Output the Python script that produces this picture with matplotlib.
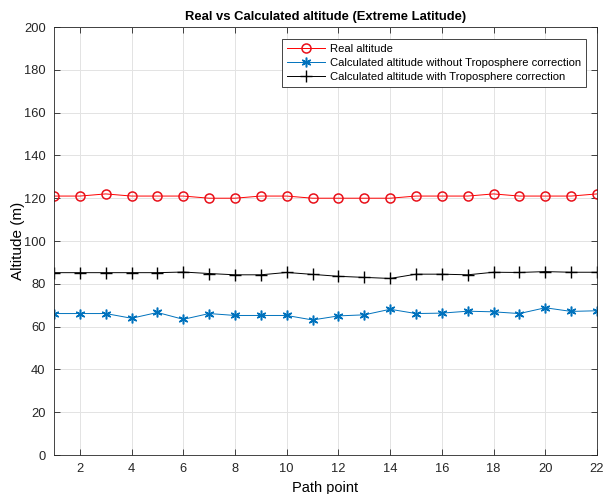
import numpy as np
import matplotlib
matplotlib.use('Agg')
from matplotlib import pyplot as plt

plt.rcParams['font.family'] = ['Liberation Sans', 'DejaVu Sans']

# values
path_point = list(range(1, 23))
real_alt = [121, 121, 122, 121, 121, 121, 120, 120, 121, 121, 120,
            120, 120, 120, 121, 121, 121, 122, 121, 121, 121, 122]
calc_no_tropo = [66.1, 66.1, 66.1, 63.9, 66.6, 63.4, 66.1, 65.2, 65.2, 65.2, 63.1,
                 65.0, 65.5, 68.1, 66.1, 66.3, 67.2, 66.9, 66.1, 68.8, 67.1, 67.4]
calc_tropo = [85.2, 85.2, 85.2, 85.2, 85.2, 85.5, 84.8, 84.2, 84.2, 85.3, 84.4,
              83.5, 83.0, 82.5, 84.5, 84.5, 84.2, 85.4, 85.3, 85.7, 85.4, 85.4]
x_ticks = list(range(2, 23, 2))
y_ticks = list(range(0, 201, 20))

fig = plt.figure(figsize=(6.03, 4.94), dpi=100)
ax = fig.add_axes([54 / 603, 1 - 455 / 494, 543 / 603, 428 / 494])

ax.plot(path_point, real_alt, color='#ff0000', lw=0.7, marker='o', ms=6.5,
        mfc='none', mec='#e8101a', mew=1.1, label='Real altitude')
ax.plot(path_point, calc_no_tropo, color='#0072BD', lw=0.7, marker=(6, 2, 0), ms=7,
        mec='#0072BD', mew=1.1, label='Calculated altitude without Troposphere correction')
ax.plot(path_point, calc_tropo, color='black', lw=0.7, marker='+', ms=8,
        mew=1.0, label='Calculated altitude with Troposphere correction')

ax.set_xlim(1, 22)
ax.set_ylim(0, 200)
ax.set_xticks(x_ticks)
ax.set_yticks(y_ticks)
ax.grid(True, color='#e3e3e3', lw=0.7)
ax.set_axisbelow(True)
ax.tick_params(direction='in', top=True, right=True, length=4, width=0.6,
               colors='#262626', labelsize=9.3, pad=6)
for s in ax.spines.values():
    s.set_color('#262626')
    s.set_linewidth(0.6)

ax.set_title('Real vs Calculated altitude (Extreme Latitude)', fontsize=9.4,
             fontweight='bold', pad=5)
ax.set_xlabel('Path point', fontsize=10.5, labelpad=4)
ax.set_ylabel('Altitude (m)', fontsize=11, labelpad=-1)

leg = ax.legend(loc='upper right', fontsize=8.1, fancybox=False, framealpha=1,
                edgecolor='#262626', borderpad=0.45, labelspacing=0.35,
                handlelength=3.4, handletextpad=0.4, borderaxespad=0,
                bbox_to_anchor=(0.980, 0.972))
leg.get_frame().set_linewidth(0.6)

fig.savefig('out.png', dpi=100)
